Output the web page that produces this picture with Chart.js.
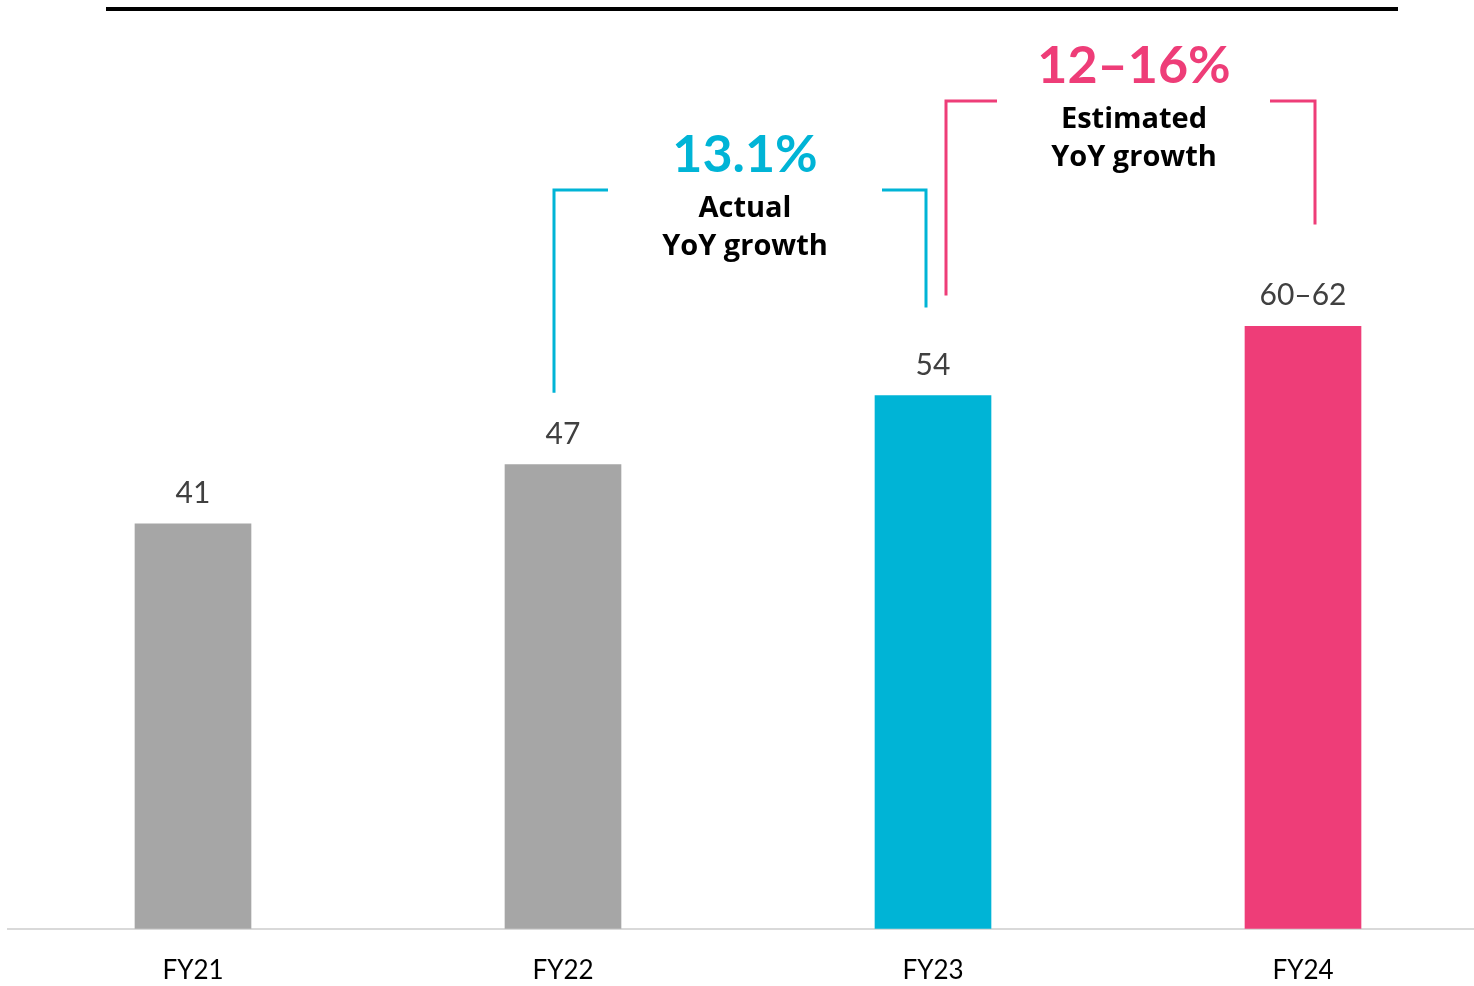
<!DOCTYPE html>
<html>
<head>
<meta charset="utf-8">
<script src="https://cdn.jsdelivr.net/npm/chart.js@4.4.1/dist/chart.umd.min.js"></script>
<style>
  html, body { margin: 0; padding: 0; background: #fff; overflow: hidden; }
  .wrap { position: relative; width: 1488px; height: 1012px; }
  .rule { position: absolute; left: 106px; top: 7px; width: 1292px; height: 4px; background: #000; }
</style>
</head>
<body>
<div class="wrap">
  <div class="rule"></div>
  <canvas id="revenueChart"></canvas>
</div>
<script>
const categories = ['FY21', 'FY22', 'FY23', 'FY24'];
const values = [41, 47, 54, 61];
const valueLabels = ['41', '47', '54', '60–62'];
const barColors = ['#A6A6A6', '#A6A6A6', '#00B4D6', '#EE3D78'];

// growth brackets: from category -> to category
const growthFrom = [1, 2];
const growthTo = [2, 3];
const growthTitles = ['13.1%', '12–16%'];
const growthNotes = [['Actual', 'YoY growth'], ['Estimated', 'YoY growth']];
const growthColors = ['#00B4D6', '#EE3D78'];

const FONT = 'Lato, "Noto Sans", sans-serif';
const NOTE_FONT = '"Open Sans", Lato, sans-serif';

// value above each bar
const barValues = {
  id: 'barValues',
  afterDatasetsDraw(chart) {
    const ctx = chart.ctx;
    const meta = chart.getDatasetMeta(0);
    ctx.save();
    ctx.font = '400 30px ' + FONT;
    ctx.fillStyle = '#404040';
    ctx.textAlign = 'center';
    ctx.textBaseline = 'alphabetic';
    meta.data.forEach((bar, i) => {
      ctx.fillText(valueLabels[i], bar.x, bar.y - 21);
    });
    ctx.restore();
  }
};

// bracket geometry per growth callout
const bracketStyle = [
  { top: 190, dxL: -9, dxR: -7, dropL: 72, dropR: 88, gapL: 54, gapR: 44, textX: 745 },
  { top: 101, dxL: 13, dxR: 12, dropL: 100, dropR: 102, gapL: 51, gapR: 45, textX: 1134 }
];

const growthBrackets = {
  id: 'growthBrackets',
  afterDatasetsDraw(chart) {
    const ctx = chart.ctx;
    const meta = chart.getDatasetMeta(0);
    ctx.save();
    growthFrom.forEach((from, k) => {
      const s = bracketStyle[k];
      const a = meta.data[from], b = meta.data[growthTo[k]];
      const xl = a.x + s.dxL, xr = b.x + s.dxR;
      ctx.strokeStyle = growthColors[k];
      ctx.lineWidth = 3;
      ctx.lineCap = 'butt';
      ctx.beginPath();
      ctx.moveTo(xl + s.gapL, s.top);
      ctx.lineTo(xl, s.top);
      ctx.lineTo(xl, a.y - s.dropL);
      ctx.stroke();
      ctx.beginPath();
      ctx.moveTo(xr - s.gapR, s.top);
      ctx.lineTo(xr, s.top);
      ctx.lineTo(xr, b.y - s.dropR);
      ctx.stroke();

      ctx.textAlign = 'center';
      ctx.textBaseline = 'alphabetic';
      ctx.fillStyle = growthColors[k];
      ctx.font = '700 52px ' + FONT;
      ctx.fillText(growthTitles[k], s.textX, s.top - 18);
      ctx.fillStyle = '#000';
      ctx.font = '700 29px ' + NOTE_FONT;
      ctx.fillText(growthNotes[k][0], s.textX, s.top + 27);
      ctx.fillText(growthNotes[k][1], s.textX, s.top + 65);
    });
    ctx.restore();
  }
};

new Chart(document.getElementById('revenueChart'), {
  type: 'bar',
  data: {
    labels: categories,
    datasets: [{
      data: values,
      backgroundColor: barColors,
      borderWidth: 0,
      barThickness: 116
    }]
  },
  options: {
    responsive: true,
    maintainAspectRatio: false,
    animation: false,
    layout: { padding: { left: 8, right: 0, top: 40, bottom: 0 } },
    plugins: { legend: { display: false }, tooltip: { enabled: false } },
    scales: {
      x: {
        grid: { display: false, drawTicks: false },
        border: { display: true, color: '#D9D9D9', width: 2 },
        ticks: { color: '#000', font: { family: FONT, size: 26 }, padding: 26 }
      },
      y: {
        display: false,
        min: 0,
        max: 90
      }
    }
  },
  plugins: [barValues, growthBrackets]
});
</script>
</body>
</html>
